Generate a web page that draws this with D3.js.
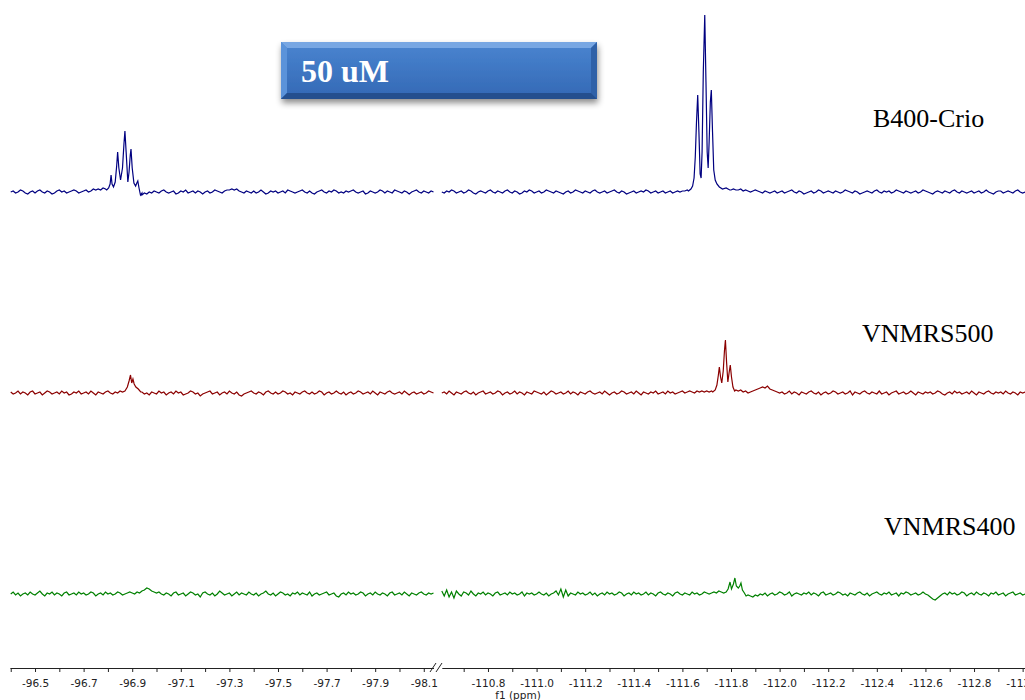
<!DOCTYPE html>
<html>
<head>
<meta charset="utf-8">
<script src="https://cdn.jsdelivr.net/npm/d3@7"></script>
<style>
  body { margin: 0; background: #fff; }
  svg { display: block; }
</style>
</head>
<body>
<svg id="chart" width="1025" height="700"></svg>
<script>
// ---- data (ppm / intensity in px above baseline) ----
const STEP = 0.01;          // noise grid spacing in ppm
const leftStart = -96.40;
const rightStart = -110.61;

const leftTicks = [-96.4,-96.5,-96.6,-96.7,-96.8,-96.9,-97.0,-97.1,-97.2,-97.3,-97.4,-97.5,-97.6,-97.7,-97.8,-97.9,-98.0,-98.1];
const leftLabels = [-96.5,-96.7,-96.9,-97.1,-97.3,-97.5,-97.7,-97.9,-98.1];
const rightTicks = [-110.7,-110.8,-110.9,-111.0,-111.1,-111.2,-111.3,-111.4,-111.5,-111.6,-111.7,-111.8,-111.9,-112.0,-112.1,-112.2,-112.3,-112.4,-112.5,-112.6,-112.7,-112.8,-112.9,-113.0];
const rightLabels = [-110.8,-111.0,-111.2,-111.4,-111.6,-111.8,-112.0,-112.2,-112.4,-112.6,-112.8,-113.0];

const traceNames = ["B400-Crio", "VNMRS500", "VNMRS400"];

// baseline noise
const blueNoiseL = [0,1,-1,0,2,1,-1,-2,0,1, -1,1,2,0,-1,1,0,-2,-1,1, 2,0,1,-1,0,1,2,1,-1,0,
  1,2,0,1,3,2,3,2,4,3, 3,4,5,6,7,8,6,5,4,3, 2,1,0,-2,-3,-1,-2,0,-1,1,
  0,-1,1,2,0,-1,0,1,-2,-1, 1,0,2,-1,0,1,-1,1,0,-2, 0,1,-1,0,2,1,0,-1,1,2,
  2,3,2,3,1,0,-1,1,0,-1, 1,-1,0,2,0,-2,-1,1,0,1, -1,0,1,-1,2,1,0,-1,0,1,
  2,0,-1,1,-1,-2,0,1,2,0, -1,1,0,2,1,-1,0,-1,1,0, 1,2,0,-1,0,1,-2,-1,1,0,
  -1,0,2,1,-1,1,0,-1,2,1, 0,-1,1,0,-2,0,1,2,0,-1, 1,0,-1,1,0];
const blueNoiseR = [0,-1,1,0,2,1,-1,0,1,-1, 0,2,1,-1,-2,0,1,0,-1,1, 2,0,-1,1,0,-1,1,2,0,-1,
  1,0,-2,-1,1,0,2,1,-1,0, 1,-1,0,2,1,0,-1,1,0,-1, -2,0,1,-1,0,2,1,0,-1,1,
  0,-1,1,2,0,-1,0,1,-1,0, 1,2,0,-1,1,0,-2,-1,0,1, -1,0,1,0,2,1,-1,0,1,-1,
  0,1,-1,0,1,-1,0,1,0,1, 1,2,2,3,4,5,6,7,8,9, 9,8,7,6,5,4,3,3,3,2,
  3,2,2,3,1,2,1,0,1,2, 1,0,-1,1,0,-1,0,1,-1,0, 1,-1,0,1,2,0,-1,1,0,-2,
  -1,0,1,-1,0,2,1,-1,0,1, 0,-1,1,0,-1,0,2,1,0,-1, 1,0,-2,-1,0,1,0,-1,1,2,
  0,-1,1,0,1,-1,0,2,1,0, -1,1,0,-1,0,1,-1,0,2,1, 0,-1,-2,0,1,0,-1,1,0,-1,
  1,2,0,-1,1,0,-1,0,1,-1, 0,1,-1,0,2,0,-1,-2,0,1, 1,-1,0,1,0,-1,1,2,0,-1, 0,1];
const redNoiseL = [1,-1,0,2,-1,1,0,-2,1,2, -1,0,1,-2,0,2,1,-1,0,1, -1,2,0,1,-2,-1,1,0,2,-1,
  0,1,-1,2,0,-2,1,0,-1,1, 2,0,-1,1,0,2,1,3,5,8, 10,6,4,2,1,-1,0,-2,1,0,
  -1,2,0,1,-2,0,1,-1,2,0, 1,-2,-1,0,2,1,-1,0,-3,-1, 0,1,2,-1,0,1,-2,0,1,-1,
  2,0,-1,1,-2,-3,-1,0,1,2, 0,-1,1,0,-2,1,2,0,-1,1, -1,0,2,1,-1,0,-2,1,0,-1,
  1,2,0,-1,1,-1,0,2,1,-2, 0,1,-1,0,2,0,-1,1,-2,0, 1,-1,0,2,1,-1,0,1,-1,2,
  0,-2,1,0,-1,1,2,0,-1,0, 1,-1,2,0,-2,0,1,-1,0,1, -1,0,2,1,0];
const redNoiseR = [0,1,-1,2,0,-2,1,0,-1,1, 2,0,-1,1,-2,0,1,2,-1,0, 1,-1,0,2,1,-2,0,1,-1,0,
  2,-1,1,0,-2,1,0,-1,2,1, 0,-1,1,-2,0,2,1,-1,0,1, -1,0,2,-1,1,0,-2,1,0,-1,
  1,2,0,-1,0,1,-1,2,0,-2, 0,1,-1,0,2,1,-1,0,1,-1, 2,0,-2,1,0,-1,1,0,2,-1,
  0,1,-1,2,0,1,-1,0,1,2, 0,1,2,1,0,2,1,2,1,2, 1,2,3,5,8,10,12,10,8,6,
  4,3,2,3,1,2,0,1,2,3, 4,5,6,5,7,4,3,2,1,0, 1,-1,0,2,-1,1,0,-2,1,0,
  -1,1,2,0,-1,1,-2,0,1,-1, 0,2,1,-1,0,1,-1,0,2,-2, 1,0,-1,1,2,0,-1,1,0,-1,
  2,-1,0,1,-2,0,1,2,-1,0, 1,-1,0,2,0,-2,1,0,-1,1, 0,1,-1,0,2,1,-1,-2,0,1,
  -1,2,0,1,-1,0,1,-1,2,0, -2,1,0,-1,1,2,0,-1,1,0, 1,-1,2,0,-1,1,0,-2,1,0, 1,2];
const greenNoiseL = [0,2,-1,1,-2,0,1,-1,2,0, -1,1,3,0,-2,1,0,2,-1,1, 0,-2,1,2,-1,0,1,-1,2,0,
  1,-1,0,2,1,-2,0,1,-1,2, 0,1,-1,0,2,1,-1,0,1,2, 1,0,2,1,3,4,6,5,3,2,
  1,2,0,-1,1,0,-2,1,2,-1, 0,1,-2,0,2,1,-1,0,-3,1, 2,0,-1,1,-2,0,3,1,-1,0,
  1,-2,0,2,-1,1,0,-1,2,0, -1,1,-2,0,1,3,0,-1,1,-2, 0,2,1,-1,0,-2,1,0,2,-1,
  1,0,-1,2,-2,0,1,-1,0,1, 2,-1,0,1,-2,-3,0,1,-1,2, 0,1,-1,0,2,1,-2,0,1,-1,
  2,0,-1,1,0,-2,1,2,-1,0, 1,-1,2,0,-2,1,0,-1,1,2, 0,-1,1,0,1];
const greenNoiseR = [3,-2,4,-3,2,-4,3,0,-2,2, 1,-1,3,0,-2,1,0,2,-1,1, 0,-2,1,2,-1,0,1,-1,2,0,
  1,-1,0,2,-2,1,0,1,-1,0, 2,0,-1,1,-2,0,1,3,-1,5, -3,4,-2,1,0,-1,2,0,1,-1,
  0,2,-1,1,-2,0,1,-1,2,0, 1,-1,0,2,1,-2,0,1,-1,2, 0,1,-1,0,2,-1,1,0,-2,1,
  2,0,-1,1,0,-2,1,2,0,-1, 1,0,-1,2,0,1,-1,0,2,1, 0,1,2,1,3,2,1,2,3,4,
  5,6,4,3,2,1,-1,-2,-3,-1, -2,0,-1,1,-2,0,1,-1,0,2, 1,-1,0,2,-2,0,1,0,-1,1,
  0,2,-1,1,0,-2,1,2,-1,0, 1,-1,0,2,1,-1,0,-2,1,0, -1,1,2,0,-1,1,-2,0,1,2,
  0,-1,1,0,2,-1,0,1,-2,1, 0,2,1,-1,0,1,-1,0,2,0, -1,-3,-5,-6,-4,-2,0,1,-1,2,
  0,1,-1,0,2,1,-2,0,1,-1, 2,0,-1,1,0,-2,1,0,2,-1, 0,1,-2,0,1,2,-1,0,1,-1, 0,2];

// multiplets [ppm, intensity]
const bluePeaksL = [[-96.795,2],[-96.803,4],[-96.809,8],[-96.813,17],[-96.817,8],[-96.823,5],
  [-96.830,10],[-96.836,26],[-96.840,40],[-96.845,24],[-96.852,12],[-96.860,24],[-96.866,48],
  [-96.870,61],[-96.875,40],[-96.882,10],[-96.887,20],[-96.892,37],[-96.895,43],[-96.900,24],
  [-96.907,9],[-96.914,6],[-96.919,9],[-96.923,11],[-96.928,4],[-96.934,-3],[-96.940,-1]];
const bluePeaksR = [[-111.625,1],[-111.635,3],[-111.642,6],[-111.648,14],[-111.653,35],[-111.658,70],
  [-111.663,97],[-111.668,60],[-111.673,18],[-111.677,14],[-111.681,40],[-111.686,120],
  [-111.692,177],[-111.697,110],[-111.702,40],[-111.706,24],[-111.710,50],[-111.715,90],
  [-111.719,102],[-111.724,60],[-111.729,22],[-111.735,12],[-111.742,8],[-111.752,5],
  [-111.765,3],[-111.780,4],[-111.795,2]];
const redPeaksL = [[-96.870,2],[-96.880,6],[-96.887,12],[-96.893,18],[-96.898,10],[-96.903,14],
  [-96.908,9],[-96.915,6],[-96.925,4],[-96.935,1]];
const redPeaksR = [[-111.725,1],[-111.735,3],[-111.742,8],[-111.748,18],[-111.752,26],[-111.757,16],
  [-111.762,10],[-111.768,22],[-111.773,42],[-111.777,53],[-111.782,30],[-111.787,11],
  [-111.792,20],[-111.797,28],[-111.802,16],[-111.808,6],[-111.815,2]];
const greenPeaksR = [[-111.780,2],[-111.788,5],[-111.796,12],[-111.802,5],[-111.810,10],[-111.816,16],
  [-111.822,8],[-111.830,6],[-111.836,8],[-111.841,11],[-111.847,4],[-111.855,1],[-111.862,-2]];

// ---- drawing ----
const svg = d3.select("#chart");

const xL = d3.scaleLinear().domain([-96.397, -98.140]).range([10, 433.5]);
const xR = d3.scaleLinear().domain([-110.61, -113.02]).range([441.8, 1027.5]);

const bases = [192, 393, 594];
const colors = ["#000080", "#8b0000", "#008000"];
const yScales = bases.map(b => d3.scaleLinear().domain([0, 180]).range([b, b - 180]));

function buildTrace(start, noise, peaks) {
    let pts = noise.map((v, i) => [start - STEP * i, v]);
    if (peaks && peaks.length) {
        let hi = peaks[0][0], lo = peaks[peaks.length - 1][0];
        pts = pts.filter(p => !(p[0] <= hi && p[0] >= lo));
        pts = pts.concat(peaks);
        pts.sort((a, b) => b[0] - a[0]);
    }
    return pts;
}

const traces = [
    {L: buildTrace(leftStart, blueNoiseL, bluePeaksL), R: buildTrace(rightStart, blueNoiseR, bluePeaksR)},
    {L: buildTrace(leftStart, redNoiseL, redPeaksL), R: buildTrace(rightStart, redNoiseR, redPeaksR)},
    {L: buildTrace(leftStart, greenNoiseL, []), R: buildTrace(rightStart, greenNoiseR, greenPeaksR)}
];

traces.forEach(function(t, k) {
    let y = yScales[k];
    let lineL = d3.line().x(d => xL(d[0])).y(d => y(d[1]));
    let lineR = d3.line().x(d => xR(d[0])).y(d => y(d[1]));
    svg.append("path").attr("d", lineL(t.L))
        .attr("fill", "none").attr("stroke", colors[k]).attr("stroke-width", 1.2);
    svg.append("path").attr("d", lineR(t.R))
        .attr("fill", "none").attr("stroke", colors[k]).attr("stroke-width", 1.2);
});

// trace names
const nameX = [873, 862, 884];
const nameY = [127, 342, 535];
svg.selectAll("text.tname").data(traceNames).enter().append("text")
    .attr("class", "tname")
    .attr("x", (d, i) => nameX[i])
    .attr("y", (d, i) => nameY[i])
    .attr("font-family", "'Liberation Serif', 'Times New Roman', serif")
    .attr("font-size", 26)
    .attr("fill", "#000")
    .text(d => d);

// "50 uM" box
const defs = svg.append("defs");
const grad = defs.append("linearGradient").attr("id", "boxGrad")
    .attr("x1", 0).attr("y1", 0).attr("x2", 0).attr("y2", 1);
grad.append("stop").attr("offset", "0%").attr("stop-color", "#4a85d0");
grad.append("stop").attr("offset", "100%").attr("stop-color", "#3368b5");
const shadow = defs.append("filter").attr("id", "shadow")
    .attr("x", "-10%").attr("y", "-20%").attr("width", "120%").attr("height", "160%");
shadow.append("feDropShadow").attr("dx", 1).attr("dy", 4).attr("stdDeviation", 3)
    .attr("flood-color", "#000").attr("flood-opacity", 0.45);

const bx = 281, by = 42, bw = 316, bh = 57, bev = 6;
const box = svg.append("g");
box.append("rect").attr("x", bx).attr("y", by).attr("width", bw).attr("height", bh)
    .attr("fill", "url(#boxGrad)").attr("filter", "url(#shadow)");
// bevel faces
box.append("polygon")
    .attr("points", [[bx,by],[bx+bw,by],[bx+bw-bev,by+bev],[bx+bev,by+bev]].join(" "))
    .attr("fill", "#78a7e3");
box.append("polygon")
    .attr("points", [[bx,by],[bx+bev,by+bev],[bx+bev,by+bh-bev],[bx,by+bh]].join(" "))
    .attr("fill", "#5b93da");
box.append("polygon")
    .attr("points", [[bx+bw,by],[bx+bw,by+bh],[bx+bw-bev,by+bh-bev],[bx+bw-bev,by+bev]].join(" "))
    .attr("fill", "#2f61a8");
box.append("polygon")
    .attr("points", [[bx,by+bh],[bx+bev,by+bh-bev],[bx+bw-bev,by+bh-bev],[bx+bw,by+bh]].join(" "))
    .attr("fill", "#244f8e");
box.append("text").attr("x", 301).attr("y", 82)
    .attr("font-family", "'Liberation Serif', 'Times New Roman', serif")
    .attr("font-size", 32).attr("font-weight", "bold").attr("fill", "#fff")
    .text("50 uM");

// axis
const axisY = 668;
function drawAxis(scale, ticks, labels) {
    let labelSet = new Set(labels.map(v => v.toFixed(1)));
    let ax = d3.axisBottom(scale)
        .tickValues(ticks)
        .tickSize(4)
        .tickSizeOuter(0)
        .tickPadding(8)
        .tickFormat(d => labelSet.has(d.toFixed(1)) ? d.toFixed(1) : "");
    let g = svg.append("g").attr("transform", "translate(0," + axisY + ")").call(ax);
    g.selectAll("text")
        .attr("font-family", "Verdana, 'DejaVu Sans', sans-serif")
        .attr("font-size", 10.5)
        .attr("fill", "#222");
    g.select(".domain").attr("stroke", "#222");
    g.selectAll(".tick line").attr("stroke", "#222");
    return g;
}
drawAxis(xL, leftTicks, leftLabels);
drawAxis(xR, rightTicks, rightLabels);

// axis break marks
const brk = svg.append("g").attr("stroke", "#222").attr("stroke-width", 1).attr("fill", "none");
brk.append("line").attr("x1", 430).attr("y1", axisY + 4).attr("x2", 436).attr("y2", axisY - 5);
brk.append("line").attr("x1", 436).attr("y1", axisY + 4).attr("x2", 442).attr("y2", axisY - 5);

svg.append("text").attr("x", 518).attr("y", 699)
    .attr("text-anchor", "middle")
    .attr("font-family", "Verdana, 'DejaVu Sans', sans-serif")
    .attr("font-size", 10.5).attr("fill", "#222")
    .text("f1 (ppm)");
</script>
</body>
</html>
